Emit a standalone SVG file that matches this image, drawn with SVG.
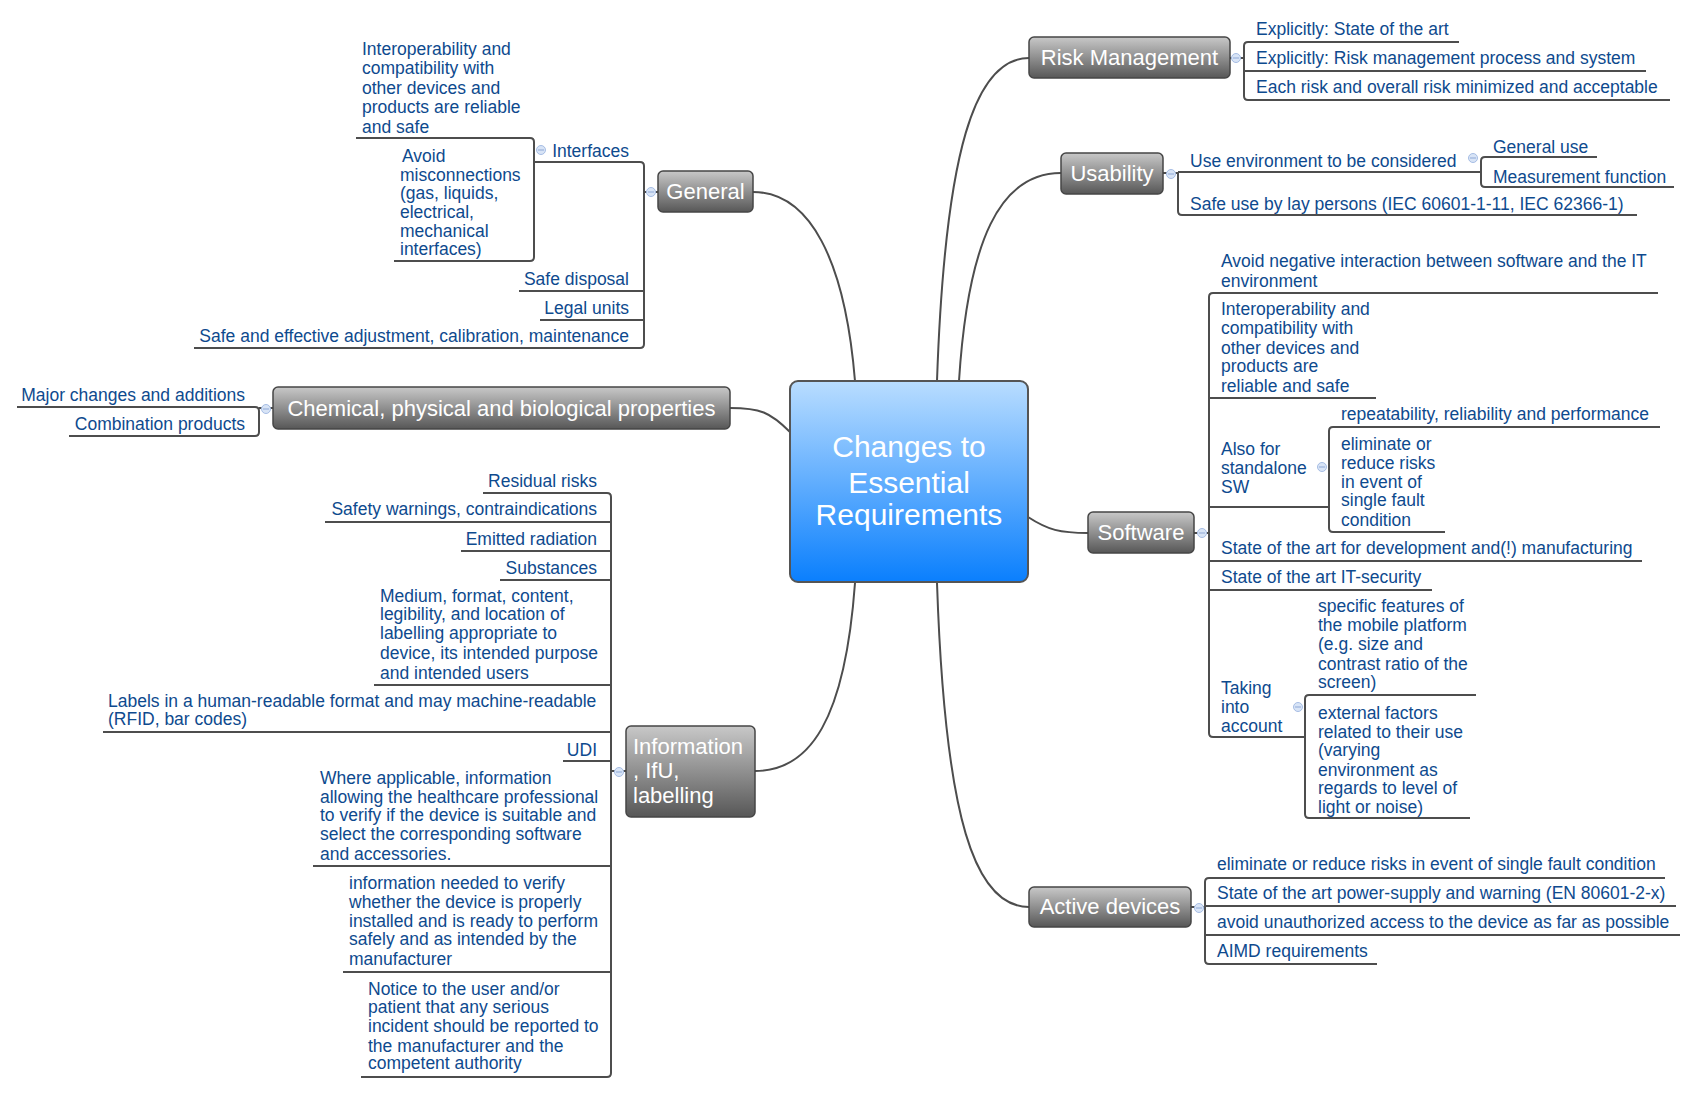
<svg xmlns="http://www.w3.org/2000/svg" width="1693" height="1093" viewBox="0 0 1693 1093">
<defs>
<linearGradient id="gC" x1="0" y1="0" x2="0" y2="1"><stop offset="0" stop-color="#b9ddff"/><stop offset="1" stop-color="#0a7ffd"/></linearGradient>
<linearGradient id="gN" x1="0" y1="0" x2="0" y2="1"><stop offset="0" stop-color="#c8c8c8"/><stop offset="1" stop-color="#575757"/></linearGradient>
<style>
.l{fill:none;stroke:#4d4d4d;stroke-width:2}
.t{font-family:"Liberation Sans",Arial,sans-serif;font-size:17.5px;fill:#0e4a8e}
.e{text-anchor:end}
.n{font-family:"Liberation Sans",Arial,sans-serif;font-size:22px;fill:#fff;text-anchor:middle}
.box{fill:url(#gN);stroke:#464646;stroke-width:1.5}
.btn{fill:#d8e4f6;stroke:#a6bde4;stroke-width:1}
.m{stroke:#8ea8d6;stroke-width:1}
</style>
</defs>
<rect width="1693" height="1093" fill="#fff"/>
<g id="connectors">
<path class="l" d="M855,381 C845,260 810,192 753,192"/>
<path class="l" d="M937,381 C945,150 975,58 1029,58"/>
<path class="l" d="M959,381 C968,240 1000,173 1061,173"/>
<path class="l" d="M790,432 C770,412 760,408 730,408"/>
<path class="l" d="M1028,517 C1048,530 1060,533 1088,533"/>
<path class="l" d="M855,583 C845,720 810,771 755,771"/>
<path class="l" d="M937,583 C945,820 975,907 1029,907"/>
<path class="l" d="M1230,58 H1244 M1459,42 H1248 Q1244,42 1244,46 V96 Q1244,100 1248,100 H1670 M1244,71 H1646"/>
<path class="l" d="M1163,173 H1178 M1178,172 H1481 M1178,172 V211 Q1178,215 1182,215 H1637 M1597,157 H1485 Q1481,157 1481,161 V183 Q1481,187 1485,187 H1674"/>
<path class="l" d="M1194,533 H1209 M1658,293 H1213 Q1209,293 1209,297 V733 Q1209,737 1213,737 H1305 M1209,398 H1376 M1209,507 H1329 M1209,561 H1642 M1209,590 H1432"/>
<path class="l" d="M1660,427 H1333 Q1329,427 1329,431 V528 Q1329,532 1333,532 H1445"/>
<path class="l" d="M1476,695 H1309 Q1305,695 1305,699 V814 Q1305,818 1309,818 H1470"/>
<path class="l" d="M1191,907 H1205 M1665,878 H1209 Q1205,878 1205,882 V960 Q1205,964 1209,964 H1377 M1205,906 H1676 M1205,935 H1680"/>
<path class="l" d="M658,192 H644 M534,162 H640 Q644,162 644,166 V344 Q644,348 640,348 H194 M644,291 H519 M644,320 H540"/>
<path class="l" d="M356,138 H530 Q534,138 534,142 V257 Q534,261 530,261 H394"/>
<path class="l" d="M273,408 H259 M17,407 H255 Q259,407 259,411 V432 Q259,436 255,436 H69"/>
<path class="l" d="M626,771 H611 M483,493 H607 Q611,493 611,497 V1073 Q611,1077 607,1077 H361 M611,522 H325 M611,551 H461 M611,580 H500 M611,685 H374 M611,732 H103 M611,761 H563 M611,866 H313 M611,972 H343"/>
<g>
<circle class="btn" cx="1236" cy="58" r="4.5"/><path class="m" d="M1233,58 H1239"/>
<circle class="btn" cx="1171" cy="174" r="4.5"/><path class="m" d="M1168,174 H1174"/>
<circle class="btn" cx="1473" cy="158" r="4.5"/><path class="m" d="M1470,158 H1476"/>
<circle class="btn" cx="1202" cy="533" r="4.5"/><path class="m" d="M1199,533 H1205"/>
<circle class="btn" cx="1322" cy="467" r="4.5"/><path class="m" d="M1319,467 H1325"/>
<circle class="btn" cx="1298" cy="707" r="4.5"/><path class="m" d="M1295,707 H1301"/>
<circle class="btn" cx="1199" cy="908" r="4.5"/><path class="m" d="M1196,908 H1202"/>
<circle class="btn" cx="651" cy="192" r="4.5"/><path class="m" d="M648,192 H654"/>
<circle class="btn" cx="541" cy="150" r="4.5"/><path class="m" d="M538,150 H544"/>
<circle class="btn" cx="266" cy="409" r="4.5"/><path class="m" d="M263,409 H269"/>
<circle class="btn" cx="619" cy="772" r="4.5"/><path class="m" d="M616,772 H622"/>
</g>
</g>
<g id="central">
<rect x="790" y="381" width="238" height="201" rx="8" fill="url(#gC)" stroke="#555" stroke-width="2"/>
<text font-family="'Liberation Sans',Arial,sans-serif" font-size="30" fill="#fff" text-anchor="middle"><tspan x="909" y="457">Changes to</tspan><tspan x="909" y="493">Essential</tspan><tspan x="909" y="525">Requirements</tspan></text>
</g>
<g id="risk-management"><rect class="box" x="1029" y="37" width="201" height="41" rx="5"/><text class="n" x="1129.5" y="65">Risk Management</text></g>
<g id="usability"><rect class="box" x="1061" y="153" width="102" height="41" rx="5"/><text class="n" x="1112" y="181">Usability</text></g>
<g id="general"><rect class="box" x="658" y="171" width="95" height="41" rx="5"/><text class="n" x="705.5" y="199">General</text></g>
<g id="chemical"><rect class="box" x="273" y="387" width="457" height="42" rx="5"/><text class="n" x="501.5" y="415.5">Chemical, physical and biological properties</text></g>
<g id="software"><rect class="box" x="1088" y="512" width="106" height="41" rx="5"/><text class="n" x="1141" y="540">Software</text></g>
<g id="active-devices"><rect class="box" x="1029" y="887" width="162" height="40" rx="5"/><text class="n" x="1110" y="914">Active devices</text></g>
<g id="information"><rect class="box" x="626" y="726" width="129" height="91" rx="5"/><text class="n" style="text-anchor:start"><tspan x="633" y="754">Information</tspan><tspan x="633" y="778">, IfU,</tspan><tspan x="633" y="803">labelling</tspan></text></g>

<g id="right-topics" transform="translate(-2,1.5)">
<g id="rm-1"><text class="t" x="1258" y="33">Explicitly: State of the art</text></g>
<g id="rm-2"><text class="t" x="1258" y="62">Explicitly: Risk management process and system</text></g>
<g id="rm-3"><text class="t" x="1258" y="91">Each risk and overall risk minimized and acceptable</text></g>
<g id="us-1"><text class="t" x="1192" y="165">Use environment to be considered</text></g>
<g id="us-1a"><text class="t" x="1495" y="151">General use</text></g>
<g id="us-1b"><text class="t" x="1495" y="181">Measurement function</text></g>
<g id="us-2"><text class="t" x="1192" y="208">Safe use by lay persons (IEC 60601-1-11, IEC 62366-1)</text></g>
<g id="sw-1"><text class="t"><tspan x="1223" y="265">Avoid negative interaction between software and the IT</tspan><tspan x="1223" y="285">environment</tspan></text></g>
<g id="sw-2"><text class="t"><tspan x="1223" y="313">Interoperability and</tspan><tspan x="1223" y="332">compatibility with</tspan><tspan x="1223" y="352">other devices and</tspan><tspan x="1223" y="370">products are</tspan><tspan x="1223" y="390">reliable and safe</tspan></text></g>
<g id="sw-3"><text class="t"><tspan x="1223" y="453">Also for</tspan><tspan x="1223" y="472">standalone</tspan><tspan x="1223" y="491">SW</tspan></text></g>
<g id="sw-3a"><text class="t" x="1343" y="418">repeatability, reliability and performance</text></g>
<g id="sw-3b"><text class="t"><tspan x="1343" y="448">eliminate or</tspan><tspan x="1343" y="467">reduce risks</tspan><tspan x="1343" y="486">in event of</tspan><tspan x="1343" y="504">single fault</tspan><tspan x="1343" y="524">condition</tspan></text></g>
<g id="sw-4"><text class="t" x="1223" y="552">State of the art for development and(!) manufacturing</text></g>
<g id="sw-5"><text class="t" x="1223" y="581">State of the art IT-security</text></g>
<g id="sw-6"><text class="t"><tspan x="1223" y="692">Taking</tspan><tspan x="1223" y="711">into</tspan><tspan x="1223" y="730">account</tspan></text></g>
<g id="sw-6a"><text class="t"><tspan x="1320" y="610">specific features of</tspan><tspan x="1320" y="629">the mobile platform</tspan><tspan x="1320" y="648">(e.g. size and</tspan><tspan x="1320" y="668">contrast ratio of the</tspan><tspan x="1320" y="686">screen)</tspan></text></g>
<g id="sw-6b"><text class="t"><tspan x="1320" y="717">external factors</tspan><tspan x="1320" y="736">related to their use</tspan><tspan x="1320" y="754">(varying</tspan><tspan x="1320" y="774">environment as</tspan><tspan x="1320" y="792">regards to level of</tspan><tspan x="1320" y="811">light or noise)</tspan></text></g>
<g id="ad-1"><text class="t" x="1219" y="868">eliminate or reduce risks in event of single fault condition</text></g>
<g id="ad-2"><text class="t" x="1219" y="897">State of the art power-supply and warning (EN 80601-2-x)</text></g>
<g id="ad-3"><text class="t" x="1219" y="926">avoid unauthorized access to the device as far as possible</text></g>
<g id="ad-4"><text class="t" x="1219" y="955">AIMD requirements</text></g>
</g>

<g id="left-topics" transform="translate(0,1.5)">
<g id="ge-1"><text class="t e" x="629" y="155">Interfaces</text></g>
<g id="ge-1a"><text class="t"><tspan x="362" y="53">Interoperability and</tspan><tspan x="362" y="72">compatibility with</tspan><tspan x="362" y="92">other devices and</tspan><tspan x="362" y="111">products are reliable</tspan><tspan x="362" y="131">and safe</tspan></text></g>
<g id="ge-1b"><text class="t"><tspan x="402" y="160">Avoid</tspan><tspan x="400" y="179">misconnections</tspan><tspan x="400" y="197">(gas, liquids,</tspan><tspan x="400" y="216">electrical,</tspan><tspan x="400" y="235">mechanical</tspan><tspan x="400" y="253">interfaces)</tspan></text></g>
<g id="ge-2"><text class="t e" x="629" y="283">Safe disposal</text></g>
<g id="ge-3"><text class="t e" x="629" y="312">Legal units</text></g>
<g id="ge-4"><text class="t e" x="629" y="340">Safe and effective adjustment, calibration, maintenance</text></g>
<g id="ch-1"><text class="t e" x="245" y="399">Major changes and additions</text></g>
<g id="ch-2"><text class="t e" x="245" y="428">Combination products</text></g>
<g id="in-1"><text class="t e" x="597" y="485">Residual risks</text></g>
<g id="in-2"><text class="t e" x="597" y="513">Safety warnings, contraindications</text></g>
<g id="in-3"><text class="t e" x="597" y="543">Emitted radiation</text></g>
<g id="in-4"><text class="t e" x="597" y="572">Substances</text></g>
<g id="in-5"><text class="t"><tspan x="380" y="600">Medium, format, content,</tspan><tspan x="380" y="618">legibility, and location of</tspan><tspan x="380" y="637">labelling appropriate to</tspan><tspan x="380" y="657">device, its intended purpose</tspan><tspan x="380" y="677">and intended users</tspan></text></g>
<g id="in-6"><text class="t"><tspan x="108" y="705">Labels in a human-readable format and may machine-readable</tspan><tspan x="108" y="723">(RFID, bar codes)</tspan></text></g>
<g id="in-7"><text class="t e" x="597" y="754">UDI</text></g>
<g id="in-8"><text class="t"><tspan x="320" y="782">Where applicable, information</tspan><tspan x="320" y="801">allowing the healthcare professional</tspan><tspan x="320" y="819">to verify if the device is suitable and</tspan><tspan x="320" y="838">select the corresponding software</tspan><tspan x="320" y="858">and accessories.</tspan></text></g>
<g id="in-9"><text class="t"><tspan x="349" y="887">information needed to verify</tspan><tspan x="349" y="906">whether the device is properly</tspan><tspan x="349" y="925">installed and is ready to perform</tspan><tspan x="349" y="943">safely and as intended by the</tspan><tspan x="349" y="963">manufacturer</tspan></text></g>
<g id="in-10"><text class="t"><tspan x="368" y="993">Notice to the user and/or</tspan><tspan x="368" y="1011">patient that any serious</tspan><tspan x="368" y="1030">incident should be reported to</tspan><tspan x="368" y="1050">the manufacturer and the</tspan><tspan x="368" y="1067">competent authority</tspan></text></g>
</g>
</svg>
